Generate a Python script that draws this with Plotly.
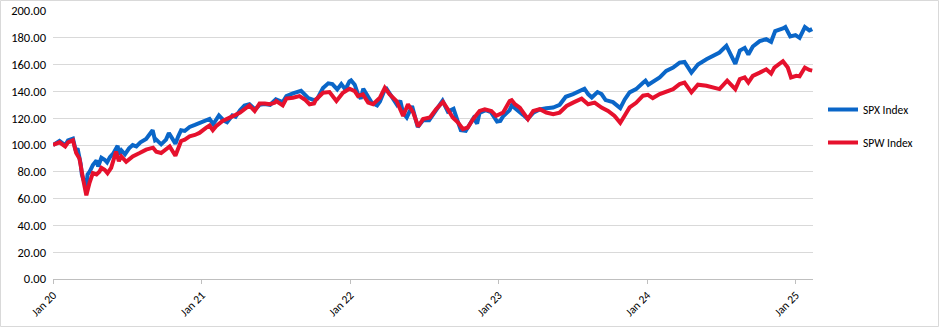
import plotly.graph_objects as go

# S&P 500 (cap-weighted) rebased to 100 at start of 2020
spx_dates = [
    "2020-01-01", "2020-01-10", "2020-01-17", "2020-01-24", "2020-01-31", "2020-02-07", "2020-02-19",
    "2020-02-25", "2020-03-02", "2020-03-09", "2020-03-12", "2020-03-16", "2020-03-23", "2020-03-26",
    "2020-03-31", "2020-04-08", "2020-04-17", "2020-04-21", "2020-04-29", "2020-05-07", "2020-05-13",
    "2020-05-20", "2020-05-29", "2020-06-08", "2020-06-11", "2020-06-17", "2020-06-26", "2020-07-06",
    "2020-07-15", "2020-07-24", "2020-08-03", "2020-08-17", "2020-09-02", "2020-09-08", "2020-09-11",
    "2020-09-23", "2020-10-05", "2020-10-12", "2020-10-28", "2020-11-04", "2020-11-11", "2020-11-20",
    "2020-12-02", "2020-12-15", "2020-12-26",
    "2021-01-08", "2021-01-20", "2021-01-29", "2021-02-12", "2021-02-25", "2021-03-04", "2021-03-17",
    "2021-03-25", "2021-04-05", "2021-04-16", "2021-04-28", "2021-05-12", "2021-05-23", "2021-06-04",
    "2021-06-18", "2021-07-02", "2021-07-19", "2021-07-28", "2021-08-13", "2021-08-25", "2021-09-02",
    "2021-09-20", "2021-10-04", "2021-10-12", "2021-10-26", "2021-11-08", "2021-11-18", "2021-11-30",
    "2021-12-10", "2021-12-20", "2021-12-30",
    "2022-01-03", "2022-01-12", "2022-01-20", "2022-01-27", "2022-02-02", "2022-02-08", "2022-02-14",
    "2022-02-23", "2022-03-08", "2022-03-15", "2022-03-29", "2022-04-08", "2022-04-12", "2022-04-26",
    "2022-05-04", "2022-05-11", "2022-05-20", "2022-06-02", "2022-06-16", "2022-06-29", "2022-07-14",
    "2022-07-28", "2022-08-16", "2022-08-29", "2022-09-12", "2022-09-23", "2022-09-30", "2022-10-12",
    "2022-10-20", "2022-10-31", "2022-11-09", "2022-11-15", "2022-11-30", "2022-12-13", "2022-12-28",
    "2023-01-05", "2023-01-12", "2023-01-28", "2023-02-02", "2023-02-14", "2023-02-22", "2023-03-02",
    "2023-03-13", "2023-03-27", "2023-04-12", "2023-04-28", "2023-05-15", "2023-05-31", "2023-06-15",
    "2023-07-03", "2023-07-24", "2023-07-31", "2023-08-09", "2023-08-18", "2023-09-01", "2023-09-11",
    "2023-09-21", "2023-10-09", "2023-10-27", "2023-11-07", "2023-11-19", "2023-12-05", "2023-12-22",
    "2023-12-28",
    "2024-01-04", "2024-01-15", "2024-02-01", "2024-02-17", "2024-03-05", "2024-03-21", "2024-04-02",
    "2024-04-19", "2024-05-05", "2024-05-26", "2024-06-11", "2024-06-27", "2024-07-14", "2024-07-24",
    "2024-08-05", "2024-08-16", "2024-08-28", "2024-09-06", "2024-09-17", "2024-10-04", "2024-10-20",
    "2024-11-01", "2024-11-11", "2024-11-30", "2024-12-06", "2024-12-18", "2024-12-31",
    "2025-01-10", "2025-01-23", "2025-02-03", "2025-02-10",
]
spx_values = [
    100.0, 101.5, 103.0, 101.5, 99.8, 103.5, 104.8,
    97.0, 96.5, 86.0, 78.0, 74.0, 69.2, 78.0,
    80.0, 85.0, 88.5, 84.0, 90.5, 89.0, 87.0,
    91.0, 94.0, 99.5, 93.0, 96.0, 93.0, 97.5,
    100.0, 99.0, 102.0, 104.5, 111.0, 103.5, 104.0,
    100.5, 104.0, 109.0, 101.0, 106.5, 111.0, 110.5,
    113.5, 115.0, 116.5,
    118.5, 119.5, 115.5, 122.0, 118.0, 117.0, 122.0,
    121.0, 126.0, 129.5, 130.5, 126.5, 130.0, 130.5,
    130.0, 134.0, 132.0, 136.5, 138.5, 139.5, 140.5,
    135.0, 133.5, 134.5, 142.5, 146.0, 145.5, 141.5,
    145.5, 141.5, 147.5,
    148.2, 145.0, 138.0, 134.5, 142.0, 139.0, 135.0,
    131.5, 129.5, 132.5, 143.0, 138.0, 136.5, 130.0,
    133.0, 124.0, 120.5, 129.0, 113.5, 118.5, 118.5,
    125.0, 133.0, 125.0, 127.0, 117.0, 111.0, 110.5,
    114.0, 120.0, 116.0, 124.0, 126.0, 124.5, 117.5,
    118.0, 121.5, 126.0, 129.5, 127.0, 124.5, 122.5,
    119.5, 124.0, 126.5, 127.5, 128.0, 130.0, 136.0,
    138.0, 141.0, 142.0, 138.0, 135.5, 139.5, 138.0,
    133.5, 132.0, 127.5, 134.0, 139.3, 141.7, 146.5,
    148.0,
    145.0, 147.5, 150.5, 155.3, 157.8, 161.5, 162.0,
    154.0, 160.0, 164.0, 166.5, 169.0, 174.0, 168.0,
    160.5, 170.5, 172.5, 167.5, 173.5, 177.5, 179.0,
    177.0, 185.0, 187.0, 188.0, 181.0, 182.0,
    180.0, 188.0, 185.5, 186.5,
]

# S&P 500 Equal Weight rebased to 100 at start of 2020
spw_dates = [
    "2020-01-01", "2020-01-10", "2020-01-17", "2020-01-31", "2020-02-07", "2020-02-19", "2020-02-27",
    "2020-03-06", "2020-03-12", "2020-03-16", "2020-03-23", "2020-03-27", "2020-03-31", "2020-04-08",
    "2020-04-17", "2020-04-24", "2020-04-29", "2020-05-07", "2020-05-14", "2020-05-23", "2020-06-04",
    "2020-06-11", "2020-06-17", "2020-06-29", "2020-07-15", "2020-08-01", "2020-08-17", "2020-09-03",
    "2020-09-11", "2020-09-23", "2020-10-05", "2020-10-14", "2020-10-28", "2020-11-11", "2020-11-20",
    "2020-12-02", "2020-12-15", "2020-12-26",
    "2021-01-12", "2021-01-20", "2021-01-28", "2021-02-05", "2021-02-21", "2021-03-09", "2021-03-25",
    "2021-04-05", "2021-04-16", "2021-04-28", "2021-05-11", "2021-05-23", "2021-06-05", "2021-06-17",
    "2021-06-29", "2021-07-03", "2021-07-19", "2021-07-28", "2021-08-13", "2021-08-29", "2021-09-11",
    "2021-09-23", "2021-10-04", "2021-10-09", "2021-10-26", "2021-11-11", "2021-11-28", "2021-12-14",
    "2021-12-30",
    "2022-01-12", "2022-01-20", "2022-02-01", "2022-02-14", "2022-02-26", "2022-03-15", "2022-03-27",
    "2022-04-08", "2022-04-25", "2022-05-11", "2022-05-23", "2022-06-05", "2022-06-17", "2022-06-29",
    "2022-07-16", "2022-07-31", "2022-08-17", "2022-08-29", "2022-09-10", "2022-09-23", "2022-10-05",
    "2022-10-17", "2022-10-30", "2022-11-15", "2022-11-28", "2022-12-14", "2022-12-26",
    "2023-01-12", "2023-01-28", "2023-02-02", "2023-02-10", "2023-02-22", "2023-03-14", "2023-03-27",
    "2023-04-12", "2023-04-28", "2023-05-15", "2023-05-31", "2023-06-17", "2023-07-03", "2023-07-24",
    "2023-08-09", "2023-08-25", "2023-09-11", "2023-09-27", "2023-10-13", "2023-10-27", "2023-11-07",
    "2023-11-19", "2023-12-05", "2023-12-22",
    "2024-01-03", "2024-01-15", "2024-02-01", "2024-02-17", "2024-03-05", "2024-03-21", "2024-04-02",
    "2024-04-19", "2024-05-05", "2024-05-26", "2024-06-11", "2024-06-27", "2024-07-16", "2024-07-24",
    "2024-08-05", "2024-08-16", "2024-08-28", "2024-09-06", "2024-09-17", "2024-10-04", "2024-10-20",
    "2024-11-01", "2024-11-09", "2024-11-30", "2024-12-12", "2024-12-20",
    "2025-01-02", "2025-01-10", "2025-01-23", "2025-02-03", "2025-02-10",
]
spw_values = [
    100.0, 101.0, 102.0, 99.0, 102.0, 103.5, 94.0,
    90.0, 78.0, 73.0, 62.5, 69.0, 72.0, 79.0,
    78.0, 80.0, 83.0, 81.5, 79.0, 83.0, 95.0,
    88.0, 91.5, 87.5, 91.5, 94.0, 96.5, 98.0,
    95.0, 94.0, 96.5, 99.0, 92.0, 103.0, 104.0,
    106.5, 107.5, 109.0,
    113.0, 114.5, 111.0, 114.0, 118.0, 120.0, 122.5,
    124.2, 127.0, 129.6, 125.4, 130.9, 131.0, 130.4,
    131.5, 132.8, 129.5, 134.6, 135.3, 136.5, 134.0,
    130.4, 131.0, 134.0, 139.0, 139.5, 132.8, 139.0,
    142.0,
    140.2, 136.5, 137.8, 131.6, 130.4, 135.3, 142.7,
    137.8, 132.8, 121.7, 130.4, 124.2, 113.8, 119.3,
    120.5, 126.7, 132.1, 126.7, 120.5, 116.8, 111.9,
    113.1, 119.3, 125.4, 126.7, 125.4, 121.7,
    124.2, 132.8, 133.5, 130.4, 127.9, 119.3, 125.4,
    126.7, 124.2, 123.0, 124.2, 129.1, 131.6, 134.6,
    130.4, 131.6, 127.9, 125.4, 121.7, 116.5, 122.0,
    128.0, 131.5, 136.8,
    137.5, 135.0, 138.0, 140.0, 141.7, 145.4, 146.5,
    139.3, 145.0, 144.2, 143.0, 141.7, 148.0, 145.4,
    141.7, 149.1, 150.4, 146.7, 151.6, 154.0, 156.5,
    153.3, 157.8, 162.5, 157.8, 150.4,
    151.6, 151.2, 157.8, 156.0, 155.5,
]

year_ticks = ["2020-01-01", "2021-01-01", "2022-01-01", "2023-01-01", "2024-01-01", "2025-01-01"]
y_ticks = [0, 20, 40, 60, 80, 100, 120, 140, 160, 180, 200]

FONT = "Carlito, Calibri, Lato, sans-serif"

fig = go.Figure()
fig.add_trace(go.Scatter(
    x=spx_dates, y=spx_values, name="SPX Index", mode="lines",
    line=dict(color="#0a66c8", width=4), legendgroup="spx",
))
fig.add_trace(go.Scatter(
    x=spw_dates, y=spw_values, name="SPW Index", mode="lines",
    line=dict(color="#e6112d", width=4), legendgroup="spw",
))

W, H = 945, 328
ML, MR, MT, MB = 53, 132, 11, 49
pw = W - ML - MR
ph = H - MT - MB

def px_x(p):
    return (p - ML) / pw

def px_y(p):
    return (H - MB - p) / ph

fig.update_layout(
    width=W, height=H,
    margin=dict(l=ML, r=MR, t=MT, b=MB, autoexpand=False),
    paper_bgcolor="white", plot_bgcolor="white",
    font=dict(family=FONT, size=12, color="#000000"),
    showlegend=True,
    legend=dict(
        x=px_x(823), y=px_y(95), xanchor="left", yanchor="top",
        font=dict(family=FONT, size=11.5, color="#000000"),
        tracegroupgap=14, itemwidth=30,
        bgcolor="rgba(0,0,0,0)",
    ),
    xaxis=dict(
        type="date",
        range=["2020-01-01", "2025-02-12"],
        tickvals=year_ticks,
        tickformat="%b %y",
        tickangle=-45,
        showgrid=False,
        showline=True, linecolor="#bfbfbf", linewidth=1,
        ticks="outside", ticklen=4, tickcolor="#bfbfbf",
        tickfont=dict(family=FONT, size=11.5, color="#000000"),
        zeroline=False, automargin=False,
    ),
    yaxis=dict(
        range=[0, 200],
        tickvals=y_ticks,
        tickformat=".2f",
        showgrid=True, gridcolor="#d9d9d9", gridwidth=1,
        zeroline=False, showline=False,
        ticks="", ticklabelstandoff=6,
        tickfont=dict(family=FONT, size=12.5, color="#000000"),
        automargin=False,
    ),
    shapes=[dict(
        type="rect", xref="paper", yref="paper",
        x0=px_x(0.5), x1=px_x(938.5), y0=px_y(326.5), y1=px_y(0.5),
        line=dict(color="#d9d9d9", width=1), layer="below",
    )],
)

fig.write_html("out.html")
